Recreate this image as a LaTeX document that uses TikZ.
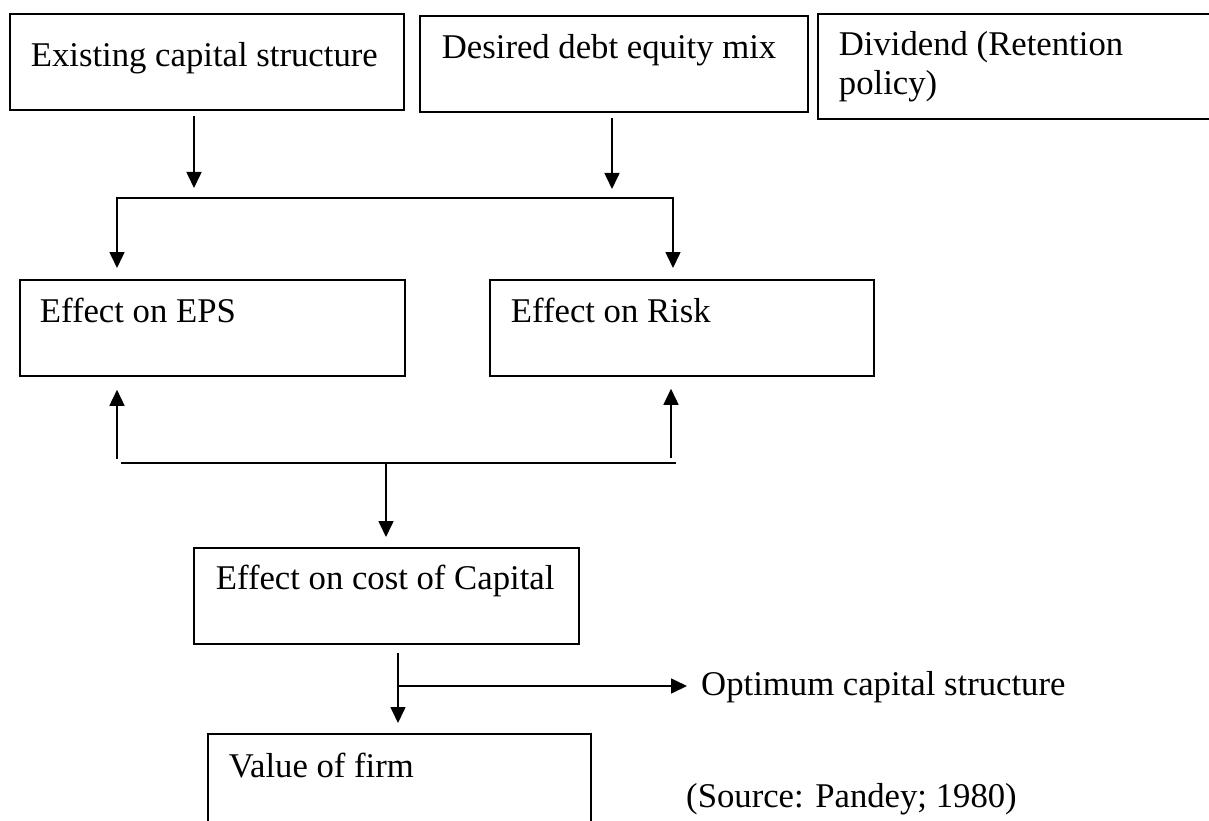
\documentclass[tikz,border=0pt]{standalone}
\usepackage{fontspec}
\setmainfont{Liberation Serif}
\usetikzlibrary{arrows.meta}
\newcommand{\bxt}[3]{\parbox[t]{#1}{\leftskip=#2\relax\rightskip=0pt plus 1fil\relax #3}}
\begin{document}
\begin{tikzpicture}[x=1pt,y=-1pt,
  font=\fontsize{34.7pt}{39pt}\selectfont,
  box/.style={draw, line width=1.8pt, anchor=north west, inner sep=0pt},
  conn/.style={line width=1.6pt, line cap=rect},
  arr/.style={conn, -{Triangle[length=16pt,width=15pt]}},
  lbl/.style={anchor=base west, inner sep=0pt}
]
\useasboundingbox (0,0) rectangle (1209,821);

% boxes
\node[box, text height=53pt, text depth=43pt] (b1) at (9,13) {\bxt{394pt}{21pt}{Existing capital structure}};
\node[box, text height=43pt, text depth=53pt] (b2) at (419,15) {\bxt{388pt}{22pt}{Desired debt equity mix}};
\node[box, text height=42pt, text depth=63pt] (b3) at (817,13) {\bxt{395pt}{21pt}{Dividend (Retention\\policy)}};
\node[box, text height=43pt, text depth=53pt] (eps) at (19,279) {\bxt{385pt}{20pt}{Effect on EPS}};
\node[box, text height=43pt, text depth=53pt] (risk) at (489,279) {\bxt{384pt}{21pt}{Effect on Risk}};
\node[box, text height=42pt, text depth=54pt] (cost) at (193,547) {\bxt{385pt}{22pt}{Effect on cost of Capital}};
\node[box, text height=44pt, text depth=53pt] (value) at (207,733) {\bxt{383pt}{21pt}{Value of firm}};

% free texts
\node[lbl] (opt) at (701,695) {Optimum capital structure};
\node[lbl] (src) at (686,807) {(Source: Pandey; 1980)};

% junction coordinates
\coordinate (a1) at (194,198);
\coordinate (a2) at (612,198);
\coordinate (jL) at (117,198);
\coordinate (jR) at (673,198);
\coordinate (u1) at (117,458);
\coordinate (u2) at (671,457);
\coordinate (kL) at (122,463);
\coordinate (kR) at (675,463);
\coordinate (k1) at (386,463);
\coordinate (v0) at (398,652);
\coordinate (br) at (398,686);

% connectors
\draw[arr, shorten <=6pt, shorten >=10pt] (b1.south -| a1) -- (a1);
\draw[arr, shorten <=6pt, shorten >=9pt] (b2.south -| a2) -- (a2);
\draw[conn] (jL) -- (jR);
\draw[arr, shorten >=11pt] (jL) -- (jL |- eps.north);
\draw[arr, shorten >=11pt] (jR) -- (jR |- risk.north);
\draw[arr, shorten >=13pt] (u1) -- (u1 |- eps.south);
\draw[arr, shorten >=12pt] (u2) -- (u2 |- risk.south);
\draw[conn] (kL) -- (kR);
\draw[arr, shorten >=10pt] (k1) -- (k1 |- cost.north);
\draw[arr, shorten <=9pt, shorten >=10pt] (cost.south -| v0) -- (v0 |- value.north);
\draw[arr, shorten >=14pt] (br) -- (br -| opt.west);
\end{tikzpicture}
\end{document}
